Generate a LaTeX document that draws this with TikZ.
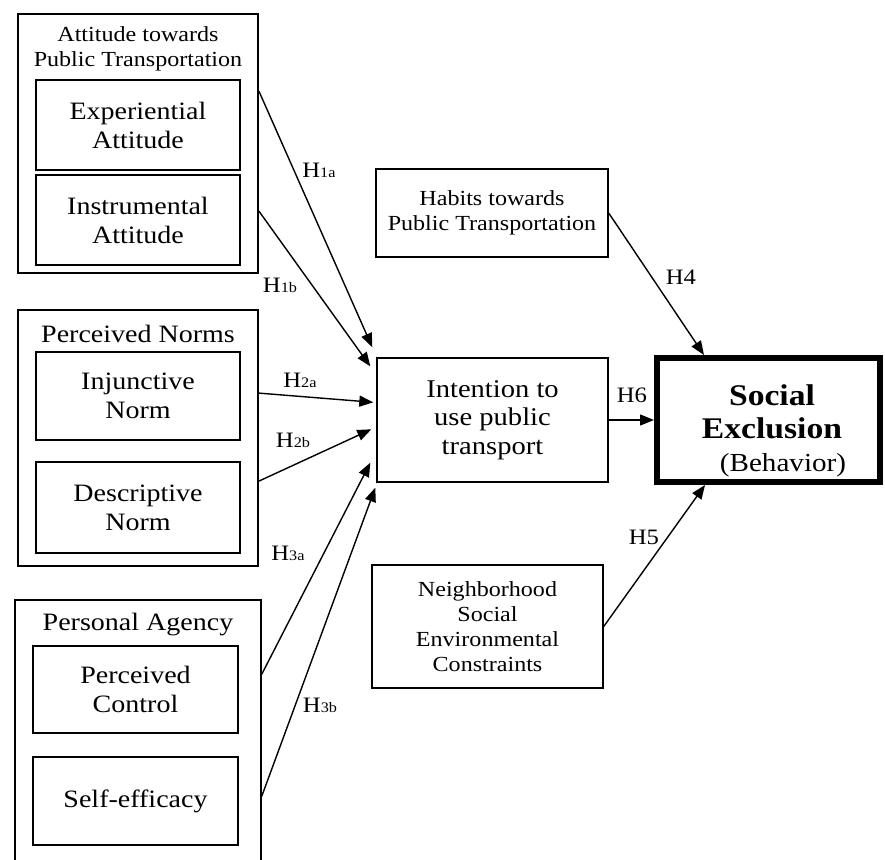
\documentclass[tikz,border=0pt]{standalone}
\usepackage{fontspec}
\setmainfont{Liberation Serif}[FakeStretch=1.12]
\usetikzlibrary{arrows.meta}

\newcommand{\fsz}[2]{\fontsize{#1}{#2}\selectfont}
\newcommand{\hlab}[1]{H{\fsz{14.5}{16}#1}}

\tikzset{
  grpbox/.style={draw, line width=1.8pt, inner sep=0pt},
  subbox/.style={draw, line width=2.4pt, minimum width=204pt, align=center, font={\fsz{25}{29}}},
  mainbox/.style={draw, line width=1.4pt, minimum width=231pt, align=center},
  grptitle/.style={align=center, inner sep=0pt},
  hyparrow/.style={line width=1.4pt, -{Triangle[length=14pt,width=11pt]}},
  hyplabel/.style={font={\fsz{22}{24}}, inner sep=0pt}
}

\begin{document}
\begin{tikzpicture}[x=1pt, y=-1pt]
    \useasboundingbox (0,0) rectangle (885,859);

    % Attitude towards public transportation
    \node[grpbox, minimum width=240pt, minimum height=259pt] (att) at (138,143.5) {};
    \node[grptitle, font={\fsz{21.5}{25}}] (atttitle) at (138,49) {Attitude towards\\Public Transportation};
    \node[subbox, minimum height=90pt] (exp) at (138,125) {Experiential\\Attitude};
    \node[subbox, minimum height=90pt] (ins) at (138,220) {Instrumental\\Attitude};

    % Perceived norms
    \node[grpbox, minimum width=240pt, minimum height=256pt] (nrm) at (138,438) {};
    \node[grptitle, font={\fsz{25}{29}}] (nrmtitle) at (138,334) {Perceived Norms};
    \node[subbox, minimum height=88pt] (inj) at (138,396) {Injunctive\\Norm};
    \node[subbox, minimum height=91pt] (des) at (138,507.5) {Descriptive\\Norm};

    % Personal agency
    \node[grpbox, line width=1.5pt, minimum width=246pt, minimum height=265pt] (agn) at (138,732.5) {};
    \node[grptitle, font={\fsz{25}{29}}] (agntitle) at (138,625) {Personal Agency};
    \node[subbox, minimum width=205pt, minimum height=87pt] (ctl) at (135.5,689.5) {Perceived\\Control};
    \node[subbox, minimum width=205pt, minimum height=88pt] (eff) at (135.5,801) {Self-efficacy};

    % Middle column
    \node[mainbox, minimum width=232pt, minimum height=88pt, font={\fsz{21.5}{25}}] (hab) at (492,213) {Habits towards\\Public Transportation};
    \node[mainbox, minimum height=124pt, font={\fsz{25.5}{28.5}}] (int) at (492.5,420) {Intention to\\use public\\transport};
    \node[mainbox, minimum height=123pt, font={\fsz{21.5}{25}}] (nbh) at (487.5,626.5) {Neighborhood\\Social\\Environmental\\Constraints};

    % Behaviour
    \node[draw, line width=6pt, minimum width=223pt, minimum height=124pt] (soc) at (768.5,420) {};
    \node[grptitle, font={\fsz{30}{33}}] (soctext) at (772,431)
        {\textbf{Social}\\\textbf{Exclusion}\\{\fsz{26}{33}\hspace*{22pt}(Behavior)}};

    % Hypotheses
    \draw[hyparrow] ([yshift=-78pt]att.north east) -- ([shift={(-4pt,10pt)}]int.north west);
    \draw[hyparrow] ([yshift=-198pt]att.north east) -- ([shift={(-6pt,-9pt)}]int.north west);
    \draw[hyparrow] ([yshift=-84pt]nrm.north east) -- ([shift={(-3pt,-45pt)}]int.north west);
    \draw[hyparrow] ([yshift=-172pt]nrm.north east) -- ([shift={(-5pt,-72pt)}]int.north west);
    \draw[hyparrow] ([yshift=-75pt]agn.north east) -- ([shift={(-6pt,20pt)}]int.south west);
    \draw[hyparrow] ([yshift=-197pt]agn.north east) -- ([shift={(-1pt,-5pt)}]int.south west);
    \draw[hyparrow] (int.east) -- (soc.west);
    \draw[hyparrow] (hab.east) -- ([xshift=50pt]soc.north west);
    \draw[hyparrow] (nbh.east) -- ([xshift=51pt]soc.south west);

    % Labels
    \foreach \n/\x/\y/\t in {h1a/319/170/1a, h1b/280/285/1b, h2a/300/380/2a, h2b/293/440/2b, h3a/288/553/3a, h3b/320/705/3b} {
        \node[hyplabel] (\n) at (\x,\y) {\hlab{\t}};
    }
    \foreach \n/\x/\y/\t in {h4/681/277/H4, h5/644/537/H5, h6/632/395/H6} {
        \node[hyplabel] (\n) at (\x,\y) {\t};
    }
\end{tikzpicture}
\end{document}
